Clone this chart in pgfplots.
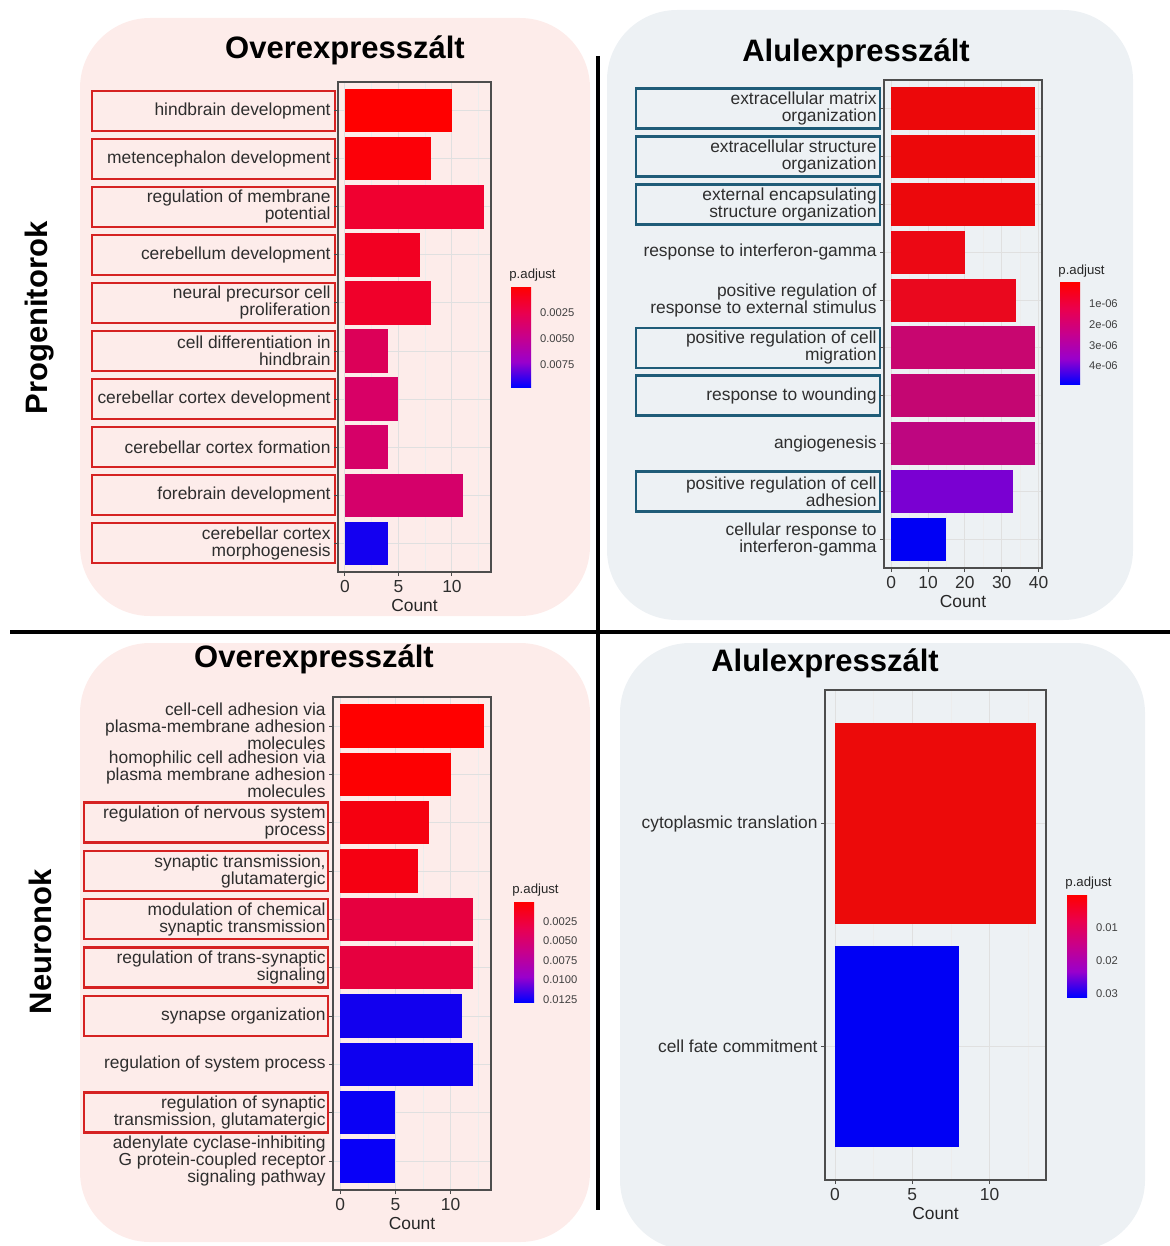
\documentclass[border=0pt]{standalone}
\usepackage{pgfplots}
\pgfplotsset{compat=1.18}
\usepackage{fontspec}
\setmainfont{Liberation Sans}
\definecolor{pinkbg}{HTML}{FDECEA}
\definecolor{greybg}{HTML}{EDF1F4}
\definecolor{boxred}{HTML}{D62222}
\definecolor{boxteal}{HTML}{1F5C78}
\definecolor{frame}{HTML}{4D4D4D}
% bar colours
\definecolor{a1}{HTML}{FF0000}\definecolor{a2}{HTML}{FC0008}\definecolor{a3}{HTML}{F00030}
\definecolor{a4}{HTML}{F20022}\definecolor{a5}{HTML}{F0002A}\definecolor{a6}{HTML}{DC0058}
\definecolor{a7}{HTML}{D80066}\definecolor{a8}{HTML}{D60068}\definecolor{a9}{HTML}{D5006A}
\definecolor{a10}{HTML}{1400F0}
\definecolor{b1}{HTML}{EC080A}\definecolor{b2}{HTML}{EC080A}\definecolor{b3}{HTML}{EC080C}
\definecolor{b4}{HTML}{EC0814}\definecolor{b5}{HTML}{EA081E}\definecolor{b6}{HTML}{C80670}
\definecolor{b7}{HTML}{C40672}\definecolor{b8}{HTML}{BE0680}\definecolor{b9}{HTML}{7A00D2}
\definecolor{b10}{HTML}{0000F5}
\definecolor{c1}{HTML}{FF0000}\definecolor{c2}{HTML}{FD0002}\definecolor{c3}{HTML}{F50010}
\definecolor{c4}{HTML}{F50012}\definecolor{c5}{HTML}{E6003F}\definecolor{c6}{HTML}{E6003F}
\definecolor{c7}{HTML}{1200EE}\definecolor{c8}{HTML}{0E00F0}\definecolor{c9}{HTML}{0A00F5}
\definecolor{c10}{HTML}{0800F8}
\definecolor{d1}{HTML}{EC0A0A}\definecolor{d2}{HTML}{0000F5}
\pgfdeclareverticalshading{cbar}{100bp}{rgb(0bp)=(0,0,1); rgb(25bp)=(0,0,1); rgb(37.5bp)=(0.6,0,0.8); rgb(50bp)=(0.78,0,0.55); rgb(62.5bp)=(0.92,0,0.3); rgb(75bp)=(1,0,0); rgb(100bp)=(1,0,0)}
\pgfplotsset{
  gobar/.style={
    scale only axis, xbar, y dir=reverse,
    axis line style={frame, line width=0.75pt},
    tick pos=left, tick align=outside, major tick length=2pt, minor tick length=0pt,
    tick style={black!70, line width=0.5pt},
    xmajorgrids, xminorgrids, ymajorgrids,
    major grid style={black!12, line width=0.5pt},
    minor grid style={black!7, line width=0.3pt},
    ticklabel style={font=\fontsize{8.7}{8.5}\selectfont, text=black!82},
    xticklabel style={yshift=1.5pt},
    yticklabel style={align=right, inner sep=1.5pt},
    xlabel=Count, xlabel style={font=\fontsize{8.7}{10}\selectfont, text=black!85, yshift=3.3pt},
    /pgf/number format/assume math mode=true,
  },
  b/.style={fill=#1, draw=none, bar shift=0pt, bar width=0.9},
  cb/.style={
    scale only axis, width=10pt, xmin=0, xmax=1, y dir=reverse,
    xtick=\empty, axis line style={draw=none},
    tick align=inside, major tick length=2pt, minor tick length=0pt,
    ytick style={white, line width=0.6pt},
    yticklabel pos=right,
    yticklabel style={font=\fontsize{5.6}{6}\selectfont, text=black!75, xshift=1pt},
    /pgf/number format/assume math mode=true,
  },
}
\begin{document}
\begin{tikzpicture}[x=0.5pt,y=0.5pt]
\useasboundingbox (0,0) rectangle (1170,-1246);
\coordinate (pTL) at (338,-572);
\coordinate (pTR) at (884,-568);
\coordinate (pBL) at (333,-1190);
\coordinate (pBR) at (825,-1180);
\coordinate (cTL) at (511,-387);
\coordinate (cTR) at (1060,-384);
\coordinate (cBL) at (514,-1002);
\coordinate (cBR) at (1067,-997);
% backgrounds
\fill[pinkbg, rounded corners=35pt] (80,-18) rectangle (590,-616);
\fill[greybg, rounded corners=35pt] (607,-10) rectangle (1133,-620);
\fill[pinkbg, rounded corners=35pt] (80,-643) rectangle (590,-1242);
\fill[greybg, rounded corners=35pt] (620,-643) rectangle (1145,-1250);
% separators
\draw[black, line width=2pt] (10,-632) -- (1170,-632);
\draw[black, line width=2pt] (598,-56) -- (598,-1210);
% titles
\node[font=\fontsize{15.5}{16}\selectfont\bfseries] at (345,-50) {Overexpresszált};
\node[font=\fontsize{15.5}{16}\selectfont\bfseries] at (856,-53) {Alulexpresszált};
\node[font=\fontsize{15.5}{16}\selectfont\bfseries] at (314,-659) {Overexpresszált};
\node[font=\fontsize{15.5}{16}\selectfont\bfseries] at (825,-663) {Alulexpresszált};
\node[font=\fontsize{15.5}{16}\selectfont\bfseries, rotate=90] at (40,-318) {Progenitorok};
\node[font=\fontsize{15.5}{16}\selectfont\bfseries, rotate=90] at (40,-942) {Neuronok};

% label boxes TL
\foreach \k in {1,...,10} {
  \draw[boxred, line width=1.25pt] (92,{-(82+(\k-0.4)*48.04)+20}) rectangle (335,{-(82+(\k-0.4)*48.04)-20});
}
% label boxes TR
\foreach \k in {1,2,3,6,7,9} {
  \draw[boxteal, line width=1.25pt] (636,{-(80+(\k-0.4)*47.84)+20}) rectangle (880,{-(80+(\k-0.4)*47.84)-20});
}
% label boxes BL
\foreach \k in {3,4,5,6,7,9} {
  \draw[boxred, line width=1.25pt] (84,{-(697+(\k-0.4)*48.3)+20}) rectangle (328,{-(697+(\k-0.4)*48.3)-20});
}

% ---------- TL ----------
\begin{axis}[gobar, at={(pTL)}, anchor=south west, width=76.5pt, height=245pt,
  xmin=-0.65, xmax=13.65, ymin=0.4, ymax=10.6,
  xtick={0,5,10}, xticklabels={0,5,10}, minor xtick={2.5,7.5,12.5},
  ytick={1,...,10},
  yticklabels={{hindbrain development},{metencephalon development},{regulation of membrane\\potential},{cerebellum development},{neural precursor cell\\proliferation},{cell differentiation in\\hindbrain},{cerebellar cortex development},{cerebellar cortex formation},{forebrain development},{cerebellar cortex\\morphogenesis}}]
\addplot[b=a1] coordinates {(10,1)};
\addplot[b=a2] coordinates {(8,2)};
\addplot[b=a3] coordinates {(13,3)};
\addplot[b=a4] coordinates {(7,4)};
\addplot[b=a5] coordinates {(8,5)};
\addplot[b=a6] coordinates {(4,6)};
\addplot[b=a7] coordinates {(5,7)};
\addplot[b=a8] coordinates {(4,8)};
\addplot[b=a9] coordinates {(11,9)};
\addplot[b=a10] coordinates {(4,10)};
\end{axis}
\begin{axis}[cb, at={(cTL)}, anchor=south west, height=50pt,
  ymin=0, ymax=96, ytick={25,50,75}, yticklabels={0.0025,0.0050,0.0075}]
\addplot[draw=none, shade, shading=cbar] coordinates {(0,0) (1,0) (1,96) (0,96) (0,0)};
\end{axis}
\node[anchor=west, font=\fontsize{6.6}{7}\selectfont, text=black!85, inner sep=0pt] at (509,-275) {p.adjust};

% ---------- TR ----------
\begin{axis}[gobar, at={(pTR)}, anchor=south west, width=79pt, height=244pt,
  xmin=-1.95, xmax=40.95, ymin=0.4, ymax=10.6,
  xtick={0,10,20,30,40}, xticklabels={0,10,20,30,40}, minor xtick={5,15,25,35},
  ytick={1,...,10},
  yticklabels={{extracellular matrix\\organization},{extracellular structure\\organization},{external encapsulating\\structure organization},{response to interferon-gamma},{positive regulation of\\response to external stimulus},{positive regulation of cell\\migration},{response to wounding},{angiogenesis},{positive regulation of cell\\adhesion},{cellular response to\\interferon-gamma}}]
\addplot[b=b1] coordinates {(39,1)};
\addplot[b=b2] coordinates {(39,2)};
\addplot[b=b3] coordinates {(39,3)};
\addplot[b=b4] coordinates {(20,4)};
\addplot[b=b5] coordinates {(34,5)};
\addplot[b=b6] coordinates {(39,6)};
\addplot[b=b7] coordinates {(39,7)};
\addplot[b=b8] coordinates {(39,8)};
\addplot[b=b9] coordinates {(33,9)};
\addplot[b=b10] coordinates {(15,10)};
\end{axis}
\begin{axis}[cb, at={(cTR)}, anchor=south west, height=50.5pt,
  ymin=0, ymax=4.87, ytick={1,2,3,4}, yticklabels={1e-06,2e-06,3e-06,4e-06}]
\addplot[draw=none, shade, shading=cbar] coordinates {(0,0) (1,0) (1,4.87) (0,4.87) (0,0)};
\end{axis}
\node[anchor=west, font=\fontsize{6.6}{7}\selectfont, text=black!85, inner sep=0pt] at (1058,-271) {p.adjust};

% ---------- BL ----------
\begin{axis}[gobar, at={(pBL)}, anchor=south west, width=79pt, height=246.5pt,
  xmin=-0.65, xmax=13.65, ymin=0.4, ymax=10.6,
  xtick={0,5,10}, xticklabels={0,5,10}, minor xtick={2.5,7.5,12.5},
  ytick={1,...,10},
  yticklabels={{cell-cell adhesion via\\plasma-membrane adhesion\\molecules},{homophilic cell adhesion via\\plasma membrane adhesion\\molecules},{regulation of nervous system\\process},{synaptic transmission,\\glutamatergic},{modulation of chemical\\synaptic transmission},{regulation of trans-synaptic\\signaling},{synapse organization},{regulation of system process},{regulation of synaptic\\transmission, glutamatergic},{adenylate cyclase-inhibiting\\G protein-coupled receptor\\signaling pathway}}]
\addplot[b=c1] coordinates {(13,1)};
\addplot[b=c2] coordinates {(10,2)};
\addplot[b=c3] coordinates {(8,3)};
\addplot[b=c4] coordinates {(7,4)};
\addplot[b=c5] coordinates {(12,5)};
\addplot[b=c6] coordinates {(12,6)};
\addplot[b=c7] coordinates {(11,7)};
\addplot[b=c8] coordinates {(12,8)};
\addplot[b=c9] coordinates {(5,9)};
\addplot[b=c10] coordinates {(5,10)};
\end{axis}
\begin{axis}[cb, at={(cBL)}, anchor=south west, height=50pt,
  ymin=0, ymax=128, ytick={25,50,75,100,125}, yticklabels={0.0025,0.0050,0.0075,0.0100,0.0125}]
\addplot[draw=none, shade, shading=cbar] coordinates {(0,0) (1,0) (1,128) (0,128) (0,0)};
\end{axis}
\node[anchor=west, font=\fontsize{6.6}{7}\selectfont, text=black!85, inner sep=0pt] at (512,-890) {p.adjust};

% ---------- BR ----------
\begin{axis}[gobar, at={(pBR)}, anchor=south west, width=110.5pt, height=245pt,
  xmin=-0.65, xmax=13.65, ymin=0.4, ymax=2.6,
  xtick={0,5,10}, xticklabels={0,5,10}, minor xtick={2.5,7.5,12.5},
  ytick={1,2}, yticklabels={{cytoplasmic translation},{cell fate commitment}}]
\addplot[b=d1] coordinates {(13,1)};
\addplot[b=d2] coordinates {(8,2)};
\end{axis}
\begin{axis}[cb, at={(cBR)}, anchor=south west, height=51pt,
  ymin=0, ymax=3.09, ytick={1,2,3}, yticklabels={0.01,0.02,0.03}]
\addplot[draw=none, shade, shading=cbar] coordinates {(0,0) (1,0) (1,3.09) (0,3.09) (0,0)};
\end{axis}
\node[anchor=west, font=\fontsize{6.6}{7}\selectfont, text=black!85, inner sep=0pt] at (1065,-883) {p.adjust};
\end{tikzpicture}
\end{document}
